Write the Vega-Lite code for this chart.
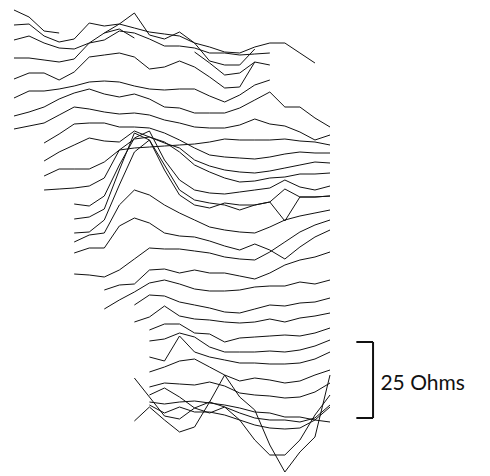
{
"$schema":"https://vega.github.io/schema/vega-lite/v6.json",
"width":490,"height":476,
"autosize":{"type":"fit","contains":"padding"},
"padding":0,
"background":"white",
"config":{"view":{"stroke":null}},
"datasets":{
"lines":[
{"id":"L1","c":0,"y":10},{"id":"L1","c":1,"y":17},{"id":"L1","c":2,"y":31},{"id":"L1","c":3,"y":33},
{"id":"L2","c":0,"y":25},{"id":"L2","c":1,"y":24},{"id":"L2","c":2,"y":36},{"id":"L2","c":3,"y":42},{"id":"L2","c":4,"y":39},{"id":"L2","c":5,"y":23},{"id":"L2","c":6,"y":26},{"id":"L2","c":7,"y":24},{"id":"L2","c":8,"y":28},{"id":"L2","c":9,"y":32},{"id":"L2","c":10,"y":34},{"id":"L2","c":11,"y":36},{"id":"L2","c":12,"y":43},{"id":"L2","c":13,"y":47},{"id":"L2","c":14,"y":52},{"id":"L2","c":15,"y":53},{"id":"L2","c":16,"y":47},{"id":"L2","c":17,"y":43},{"id":"L2","c":18,"y":43},{"id":"L2","c":19,"y":53},{"id":"L2","c":20,"y":63},
{"id":"L2b","c":6,"y":33},{"id":"L2b","c":7,"y":29},{"id":"L2b","c":8,"y":38},
{"id":"L3","c":0,"y":40},{"id":"L3","c":1,"y":36},{"id":"L3","c":2,"y":43},{"id":"L3","c":3,"y":48},{"id":"L3","c":4,"y":49},{"id":"L3","c":5,"y":43},{"id":"L3","c":6,"y":40},{"id":"L3","c":7,"y":31},{"id":"L3","c":8,"y":33},{"id":"L3","c":9,"y":39},{"id":"L3","c":10,"y":46},{"id":"L3","c":11,"y":46},{"id":"L3","c":12,"y":48},{"id":"L3","c":13,"y":53},{"id":"L3","c":14,"y":53},{"id":"L3","c":15,"y":55},{"id":"L3","c":16,"y":54},{"id":"L3","c":17,"y":53},
{"id":"L4","c":0,"y":58},{"id":"L4","c":1,"y":58},{"id":"L4","c":2,"y":60},{"id":"L4","c":3,"y":62},{"id":"L4","c":4,"y":59},{"id":"L4","c":5,"y":43},{"id":"L4","c":6,"y":33},{"id":"L4","c":7,"y":24},{"id":"L4","c":8,"y":13},{"id":"L4","c":9,"y":35},{"id":"L4","c":10,"y":39},{"id":"L4","c":11,"y":32},{"id":"L4","c":12,"y":43},{"id":"L4","c":13,"y":61},{"id":"L4","c":14,"y":65},{"id":"L4","c":15,"y":65},{"id":"L4","c":16,"y":49},
{"id":"L5","c":0,"y":79},{"id":"L5","c":1,"y":73},{"id":"L5","c":2,"y":73},{"id":"L5","c":3,"y":80},{"id":"L5","c":4,"y":72},{"id":"L5","c":5,"y":57},{"id":"L5","c":6,"y":55},{"id":"L5","c":7,"y":53},{"id":"L5","c":8,"y":57},{"id":"L5","c":9,"y":69},{"id":"L5","c":10,"y":67},{"id":"L5","c":11,"y":61},{"id":"L5","c":12,"y":67},{"id":"L5","c":13,"y":77},{"id":"L5","c":14,"y":88},{"id":"L5","c":15,"y":87},{"id":"L5","c":16,"y":62},{"id":"L5","c":17,"y":65},
{"id":"L5b","c":12,"y":52},{"id":"L5b","c":13,"y":63},{"id":"L5b","c":14,"y":75},{"id":"L5b","c":15,"y":73},{"id":"L5b","c":16,"y":62},
{"id":"L6","c":0,"y":98},{"id":"L6","c":1,"y":91},{"id":"L6","c":2,"y":91},{"id":"L6","c":3,"y":89},{"id":"L6","c":4,"y":86},{"id":"L6","c":5,"y":82},{"id":"L6","c":6,"y":81},{"id":"L6","c":7,"y":82},{"id":"L6","c":8,"y":86},{"id":"L6","c":9,"y":89},{"id":"L6","c":10,"y":90},{"id":"L6","c":11,"y":89},{"id":"L6","c":12,"y":89},{"id":"L6","c":13,"y":96},{"id":"L6","c":14,"y":102},{"id":"L6","c":15,"y":95},{"id":"L6","c":16,"y":85},{"id":"L6","c":17,"y":80},
{"id":"L7","c":0,"y":116},{"id":"L7","c":1,"y":112},{"id":"L7","c":2,"y":107},{"id":"L7","c":3,"y":99},{"id":"L7","c":4,"y":93},{"id":"L7","c":5,"y":89},{"id":"L7","c":6,"y":94},{"id":"L7","c":7,"y":97},{"id":"L7","c":8,"y":94},{"id":"L7","c":9,"y":99},{"id":"L7","c":10,"y":107},{"id":"L7","c":11,"y":108},{"id":"L7","c":12,"y":113},{"id":"L7","c":13,"y":113},{"id":"L7","c":14,"y":113},{"id":"L7","c":15,"y":108},{"id":"L7","c":16,"y":100},{"id":"L7","c":17,"y":92},{"id":"L7","c":18,"y":107},{"id":"L7","c":19,"y":107},{"id":"L7","c":20,"y":118},{"id":"L7","c":21,"y":127},
{"id":"L8","c":0,"y":129},{"id":"L8","c":1,"y":126},{"id":"L8","c":2,"y":123},{"id":"L8","c":3,"y":115},{"id":"L8","c":4,"y":107},{"id":"L8","c":5,"y":109},{"id":"L8","c":6,"y":112},{"id":"L8","c":7,"y":114},{"id":"L8","c":8,"y":113},{"id":"L8","c":9,"y":115},{"id":"L8","c":10,"y":120},{"id":"L8","c":11,"y":123},{"id":"L8","c":12,"y":127},{"id":"L8","c":13,"y":128},{"id":"L8","c":14,"y":128},{"id":"L8","c":15,"y":125},{"id":"L8","c":16,"y":119},{"id":"L8","c":17,"y":124},{"id":"L8","c":18,"y":126},{"id":"L8","c":19,"y":132},{"id":"L8","c":20,"y":140},{"id":"L8","c":21,"y":135},
{"id":"L9","c":2,"y":143},{"id":"L9","c":3,"y":134},{"id":"L9","c":4,"y":124},{"id":"L9","c":5,"y":123},{"id":"L9","c":6,"y":123},{"id":"L9","c":7,"y":127},{"id":"L9","c":8,"y":127},{"id":"L9","c":9,"y":128},{"id":"L9","c":10,"y":133},{"id":"L9","c":11,"y":140},{"id":"L9","c":12,"y":148},{"id":"L9","c":13,"y":155},{"id":"L9","c":14,"y":157},{"id":"L9","c":15,"y":158},{"id":"L9","c":16,"y":159},{"id":"L9","c":17,"y":157},{"id":"L9","c":18,"y":154},{"id":"L9","c":19,"y":152},{"id":"L9","c":20,"y":153},{"id":"L9","c":21,"y":153},
{"id":"L10","c":2,"y":161},{"id":"L10","c":3,"y":152},{"id":"L10","c":4,"y":145},{"id":"L10","c":5,"y":138},{"id":"L10","c":6,"y":141},{"id":"L10","c":7,"y":142},{"id":"L10","c":8,"y":131},{"id":"L10","c":9,"y":137},{"id":"L10","c":10,"y":143},{"id":"L10","c":11,"y":148},{"id":"L10","c":12,"y":160},{"id":"L10","c":13,"y":166},{"id":"L10","c":14,"y":170},{"id":"L10","c":15,"y":172},{"id":"L10","c":16,"y":173},{"id":"L10","c":17,"y":171},{"id":"L10","c":18,"y":168},{"id":"L10","c":19,"y":165},{"id":"L10","c":20,"y":162},{"id":"L10","c":21,"y":163},
{"id":"L11","c":2,"y":176},{"id":"L11","c":3,"y":169},{"id":"L11","c":4,"y":169},{"id":"L11","c":5,"y":169},{"id":"L11","c":6,"y":162},{"id":"L11","c":7,"y":150},{"id":"L11","c":8,"y":139},{"id":"L11","c":9,"y":137},{"id":"L11","c":10,"y":142},{"id":"L11","c":11,"y":152},{"id":"L11","c":12,"y":165},{"id":"L11","c":13,"y":172},{"id":"L11","c":14,"y":178},{"id":"L11","c":15,"y":182},{"id":"L11","c":16,"y":181},{"id":"L11","c":17,"y":178},{"id":"L11","c":18,"y":177},{"id":"L11","c":19,"y":174},{"id":"L11","c":20,"y":174},{"id":"L11","c":21,"y":173},
{"id":"L12","c":2,"y":190},{"id":"L12","c":3,"y":189},{"id":"L12","c":4,"y":188},{"id":"L12","c":5,"y":186},{"id":"L12","c":6,"y":178},{"id":"L12","c":7,"y":150},{"id":"L12","c":8,"y":148},{"id":"L12","c":9,"y":147},{"id":"L12","c":10,"y":146},{"id":"L12","c":11,"y":145},{"id":"L12","c":12,"y":144},{"id":"L12","c":13,"y":142},{"id":"L12","c":14,"y":139},{"id":"L12","c":15,"y":140},{"id":"L12","c":16,"y":140},{"id":"L12","c":17,"y":140},{"id":"L12","c":18,"y":139},{"id":"L12","c":19,"y":141},{"id":"L12","c":20,"y":142},{"id":"L12","c":21,"y":145},
{"id":"Pa","c":4,"y":204},{"id":"Pa","c":5,"y":206},{"id":"Pa","c":6,"y":196},{"id":"Pa","c":7,"y":165},{"id":"Pa","c":8,"y":138},{"id":"Pa","c":9,"y":131},{"id":"Pa","c":10,"y":160},{"id":"Pa","c":11,"y":180},{"id":"Pa","c":12,"y":190},{"id":"Pa","c":13,"y":193},{"id":"Pa","c":14,"y":194},{"id":"Pa","c":15,"y":192},{"id":"Pa","c":16,"y":190},{"id":"Pa","c":17,"y":188},{"id":"Pa","c":18,"y":180},{"id":"Pa","c":19,"y":187},{"id":"Pa","c":20,"y":190},{"id":"Pa","c":21,"y":186},
{"id":"Pb","c":4,"y":219},{"id":"Pb","c":5,"y":217},{"id":"Pb","c":6,"y":209},{"id":"Pb","c":7,"y":170},{"id":"Pb","c":8,"y":133},{"id":"Pb","c":9,"y":140},{"id":"Pb","c":10,"y":170},{"id":"Pb","c":11,"y":195},{"id":"Pb","c":12,"y":205},{"id":"Pb","c":13,"y":208},{"id":"Pb","c":14,"y":203},{"id":"Pb","c":15,"y":205},{"id":"Pb","c":16,"y":205},{"id":"Pb","c":17,"y":202},{"id":"Pb","c":18,"y":189},{"id":"Pb","c":19,"y":197},{"id":"Pb","c":20,"y":197},{"id":"Pb","c":21,"y":196},
{"id":"Pc","c":4,"y":233},{"id":"Pc","c":5,"y":232},{"id":"Pc","c":6,"y":220},{"id":"Pc","c":7,"y":185},{"id":"Pc","c":8,"y":152},{"id":"Pc","c":9,"y":140},{"id":"Pc","c":10,"y":165},{"id":"Pc","c":11,"y":190},{"id":"Pc","c":12,"y":200},{"id":"Pc","c":13,"y":203},{"id":"Pc","c":14,"y":205},{"id":"Pc","c":15,"y":210},{"id":"Pc","c":16,"y":205},{"id":"Pc","c":17,"y":202},{"id":"Pc","c":18,"y":221},{"id":"Pc","c":19,"y":197},{"id":"Pc","c":20,"y":197},{"id":"Pc","c":21,"y":196},
{"id":"Pd","c":4,"y":242},{"id":"Pd","c":5,"y":235},{"id":"Pd","c":6,"y":233},{"id":"Pd","c":7,"y":205},{"id":"Pd","c":8,"y":190},{"id":"Pd","c":9,"y":195},{"id":"Pd","c":10,"y":205},{"id":"Pd","c":11,"y":213},{"id":"Pd","c":12,"y":220},{"id":"Pd","c":13,"y":227},{"id":"Pd","c":14,"y":230},{"id":"Pd","c":15,"y":232},{"id":"Pd","c":16,"y":233},{"id":"Pd","c":17,"y":227},{"id":"Pd","c":18,"y":220},{"id":"Pd","c":19,"y":216},{"id":"Pd","c":20,"y":213},{"id":"Pd","c":21,"y":210},
{"id":"Pe","c":4,"y":253},{"id":"Pe","c":5,"y":248},{"id":"Pe","c":6,"y":248},{"id":"Pe","c":7,"y":226},{"id":"Pe","c":8,"y":218},{"id":"Pe","c":9,"y":223},{"id":"Pe","c":10,"y":233},{"id":"Pe","c":11,"y":236},{"id":"Pe","c":12,"y":237},{"id":"Pe","c":13,"y":241},{"id":"Pe","c":14,"y":246},{"id":"Pe","c":15,"y":250},{"id":"Pe","c":16,"y":244},{"id":"Pe","c":17,"y":250},{"id":"Pe","c":18,"y":259},{"id":"Pe","c":19,"y":247},{"id":"Pe","c":20,"y":237},{"id":"Pe","c":21,"y":230},
{"id":"Pf","c":4,"y":274},{"id":"Pf","c":5,"y":275},{"id":"Pf","c":6,"y":277},{"id":"Pf","c":7,"y":270},{"id":"Pf","c":8,"y":259},{"id":"Pf","c":9,"y":248},{"id":"Pf","c":10,"y":249},{"id":"Pf","c":11,"y":249},{"id":"Pf","c":12,"y":251},{"id":"Pf","c":13,"y":253},{"id":"Pf","c":14,"y":257},{"id":"Pf","c":15,"y":259},{"id":"Pf","c":16,"y":260},{"id":"Pf","c":17,"y":252},{"id":"Pf","c":18,"y":242},{"id":"Pf","c":19,"y":232},{"id":"Pf","c":20,"y":225},{"id":"Pf","c":21,"y":220},
{"id":"M1","c":6,"y":290},{"id":"M1","c":7,"y":285},{"id":"M1","c":8,"y":284},{"id":"M1","c":9,"y":270},{"id":"M1","c":10,"y":269},{"id":"M1","c":11,"y":273},{"id":"M1","c":12,"y":270},{"id":"M1","c":13,"y":273},{"id":"M1","c":14,"y":273},{"id":"M1","c":15,"y":276},{"id":"M1","c":16,"y":279},{"id":"M1","c":17,"y":273},{"id":"M1","c":18,"y":265},{"id":"M1","c":19,"y":260},{"id":"M1","c":20,"y":257},{"id":"M1","c":21,"y":252},
{"id":"M2","c":6,"y":309},{"id":"M2","c":7,"y":300},{"id":"M2","c":8,"y":292},{"id":"M2","c":9,"y":283},{"id":"M2","c":10,"y":280},{"id":"M2","c":11,"y":284},{"id":"M2","c":12,"y":289},{"id":"M2","c":13,"y":291},{"id":"M2","c":14,"y":291},{"id":"M2","c":15,"y":290},{"id":"M2","c":16,"y":287},{"id":"M2","c":17,"y":286},{"id":"M2","c":18,"y":286},{"id":"M2","c":19,"y":282},{"id":"M2","c":20,"y":284},{"id":"M2","c":21,"y":280},
{"id":"M3","c":8,"y":305},{"id":"M3","c":9,"y":295},{"id":"M3","c":10,"y":296},{"id":"M3","c":11,"y":302},{"id":"M3","c":12,"y":305},{"id":"M3","c":13,"y":308},{"id":"M3","c":14,"y":312},{"id":"M3","c":15,"y":313},{"id":"M3","c":16,"y":309},{"id":"M3","c":17,"y":305},{"id":"M3","c":18,"y":306},{"id":"M3","c":19,"y":303},{"id":"M3","c":20,"y":302},{"id":"M3","c":21,"y":298},
{"id":"M4","c":8,"y":322},{"id":"M4","c":9,"y":317},{"id":"M4","c":10,"y":306},{"id":"M4","c":11,"y":316},{"id":"M4","c":12,"y":319},{"id":"M4","c":13,"y":320},{"id":"M4","c":14,"y":322},{"id":"M4","c":15,"y":323},{"id":"M4","c":16,"y":322},{"id":"M4","c":17,"y":319},{"id":"M4","c":18,"y":322},{"id":"M4","c":19,"y":318},{"id":"M4","c":20,"y":316},{"id":"M4","c":21,"y":313},
{"id":"B1","c":9,"y":330},{"id":"B1","c":10,"y":324},{"id":"B1","c":11,"y":324},{"id":"B1","c":12,"y":333},{"id":"B1","c":13,"y":334},{"id":"B1","c":14,"y":342},{"id":"B1","c":15,"y":338},{"id":"B1","c":16,"y":337},{"id":"B1","c":17,"y":336},{"id":"B1","c":18,"y":335},{"id":"B1","c":19,"y":336},{"id":"B1","c":20,"y":333},{"id":"B1","c":21,"y":328},
{"id":"B2","c":9,"y":341},{"id":"B2","c":10,"y":339},{"id":"B2","c":11,"y":333},{"id":"B2","c":12,"y":337},{"id":"B2","c":13,"y":347},{"id":"B2","c":14,"y":352},{"id":"B2","c":15,"y":352},{"id":"B2","c":16,"y":352},{"id":"B2","c":17,"y":351},{"id":"B2","c":18,"y":352},{"id":"B2","c":19,"y":350},{"id":"B2","c":20,"y":346},{"id":"B2","c":21,"y":340},
{"id":"B3","c":9,"y":357},{"id":"B3","c":10,"y":361},{"id":"B3","c":11,"y":336},{"id":"B3","c":12,"y":352},{"id":"B3","c":13,"y":357},{"id":"B3","c":14,"y":360},{"id":"B3","c":15,"y":363},{"id":"B3","c":16,"y":363},{"id":"B3","c":17,"y":364},{"id":"B3","c":18,"y":364},{"id":"B3","c":19,"y":363},{"id":"B3","c":20,"y":359},{"id":"B3","c":21,"y":352},
{"id":"B4","c":9,"y":372},{"id":"B4","c":10,"y":367},{"id":"B4","c":11,"y":361},{"id":"B4","c":12,"y":359},{"id":"B4","c":13,"y":367},{"id":"B4","c":14,"y":375},{"id":"B4","c":15,"y":381},{"id":"B4","c":16,"y":378},{"id":"B4","c":17,"y":380},{"id":"B4","c":18,"y":383},{"id":"B4","c":19,"y":381},{"id":"B4","c":20,"y":375},{"id":"B4","c":21,"y":370},
{"id":"B5","c":9,"y":387},{"id":"B5","c":10,"y":383},{"id":"B5","c":11,"y":384},{"id":"B5","c":12,"y":385},{"id":"B5","c":13,"y":382},{"id":"B5","c":14,"y":386},{"id":"B5","c":15,"y":393},{"id":"B5","c":16,"y":395},{"id":"B5","c":17,"y":396},{"id":"B5","c":18,"y":398},{"id":"B5","c":19,"y":397},{"id":"B5","c":20,"y":392},{"id":"B5","c":21,"y":383},
{"id":"B6","c":8,"y":378},{"id":"B6","c":9,"y":397},{"id":"B6","c":10,"y":416},{"id":"B6","c":11,"y":419},{"id":"B6","c":12,"y":408},{"id":"B6","c":13,"y":402},{"id":"B6","c":14,"y":375},{"id":"B6","c":15,"y":397},{"id":"B6","c":16,"y":410},{"id":"B6","c":17,"y":445},{"id":"B6","c":18,"y":472},{"id":"B6","c":19,"y":452},{"id":"B6","c":20,"y":437},{"id":"B6","c":21,"y":375},
{"id":"B7","c":9,"y":395},{"id":"B7","c":10,"y":388},{"id":"B7","c":11,"y":397},{"id":"B7","c":12,"y":408},{"id":"B7","c":13,"y":413},{"id":"B7","c":14,"y":407},{"id":"B7","c":15,"y":413},{"id":"B7","c":16,"y":418},{"id":"B7","c":17,"y":420},{"id":"B7","c":18,"y":420},{"id":"B7","c":19,"y":422},{"id":"B7","c":20,"y":418},{"id":"B7","c":21,"y":405},
{"id":"B8","c":9,"y":402},{"id":"B8","c":10,"y":404},{"id":"B8","c":11,"y":402},{"id":"B8","c":12,"y":401},{"id":"B8","c":13,"y":403},{"id":"B8","c":14,"y":405},{"id":"B8","c":15,"y":408},{"id":"B8","c":16,"y":412},{"id":"B8","c":17,"y":413},{"id":"B8","c":18,"y":417},{"id":"B8","c":19,"y":417},{"id":"B8","c":20,"y":420},{"id":"B8","c":21,"y":422},
{"id":"B9","c":9,"y":405},{"id":"B9","c":10,"y":413},{"id":"B9","c":11,"y":407},{"id":"B9","c":12,"y":412},{"id":"B9","c":13,"y":412},{"id":"B9","c":14,"y":415},{"id":"B9","c":15,"y":420},{"id":"B9","c":16,"y":425},{"id":"B9","c":17,"y":428},{"id":"B9","c":18,"y":429},{"id":"B9","c":19,"y":428},{"id":"B9","c":20,"y":420},{"id":"B9","c":21,"y":407},
{"id":"B10","c":8,"y":421},{"id":"B10","c":9,"y":407},{"id":"B10","c":10,"y":420},{"id":"B10","c":11,"y":432},{"id":"B10","c":12,"y":427},{"id":"B10","c":13,"y":402},{"id":"B10","c":14,"y":407},{"id":"B10","c":15,"y":420},{"id":"B10","c":16,"y":440},{"id":"B10","c":17,"y":455},{"id":"B10","c":18,"y":455},{"id":"B10","c":19,"y":440},{"id":"B10","c":20,"y":415},{"id":"B10","c":21,"y":395}
],
"barV":[{"c":23.86,"y":342,"y2":418}],
"barH":[{"c":22.75,"c2":23.86,"y":342},{"c":22.75,"c2":23.86,"y":418}],
"label":[{"c":24.35,"y":384,"t":"25 Ohms"}]
},
"layer":[
{"data":{"name":"lines"},
 "mark":{"type":"line","stroke":"#111","strokeWidth":1,"interpolate":"linear"},
 "encoding":{
  "x":{"field":"c","type":"quantitative","scale":{"domain":[-0.93,31.632],"nice":false,"zero":false},"axis":null},
  "y":{"field":"y","type":"quantitative","scale":{"domain":[0,476],"reverse":true,"nice":false,"zero":false},"axis":null},
  "detail":{"field":"id","type":"nominal"},
  "order":{"field":"c","type":"quantitative"}
 }},
{"data":{"name":"barV"},
 "mark":{"type":"rule","stroke":"#111","strokeWidth":2},
 "encoding":{
  "x":{"field":"c","type":"quantitative"},
  "y":{"field":"y","type":"quantitative"},
  "y2":{"field":"y2"}
 }},
{"data":{"name":"barH"},
 "mark":{"type":"rule","stroke":"#111","strokeWidth":2},
 "encoding":{
  "x":{"field":"c","type":"quantitative"},
  "x2":{"field":"c2"},
  "y":{"field":"y","type":"quantitative"}
 }},
{"data":{"name":"label"},
 "mark":{"type":"text","align":"left","baseline":"middle","font":"Lato","fontSize":21,"color":"#111"},
 "encoding":{
  "x":{"field":"c","type":"quantitative"},
  "y":{"field":"y","type":"quantitative"},
  "text":{"field":"t"}
 }}
]
}
